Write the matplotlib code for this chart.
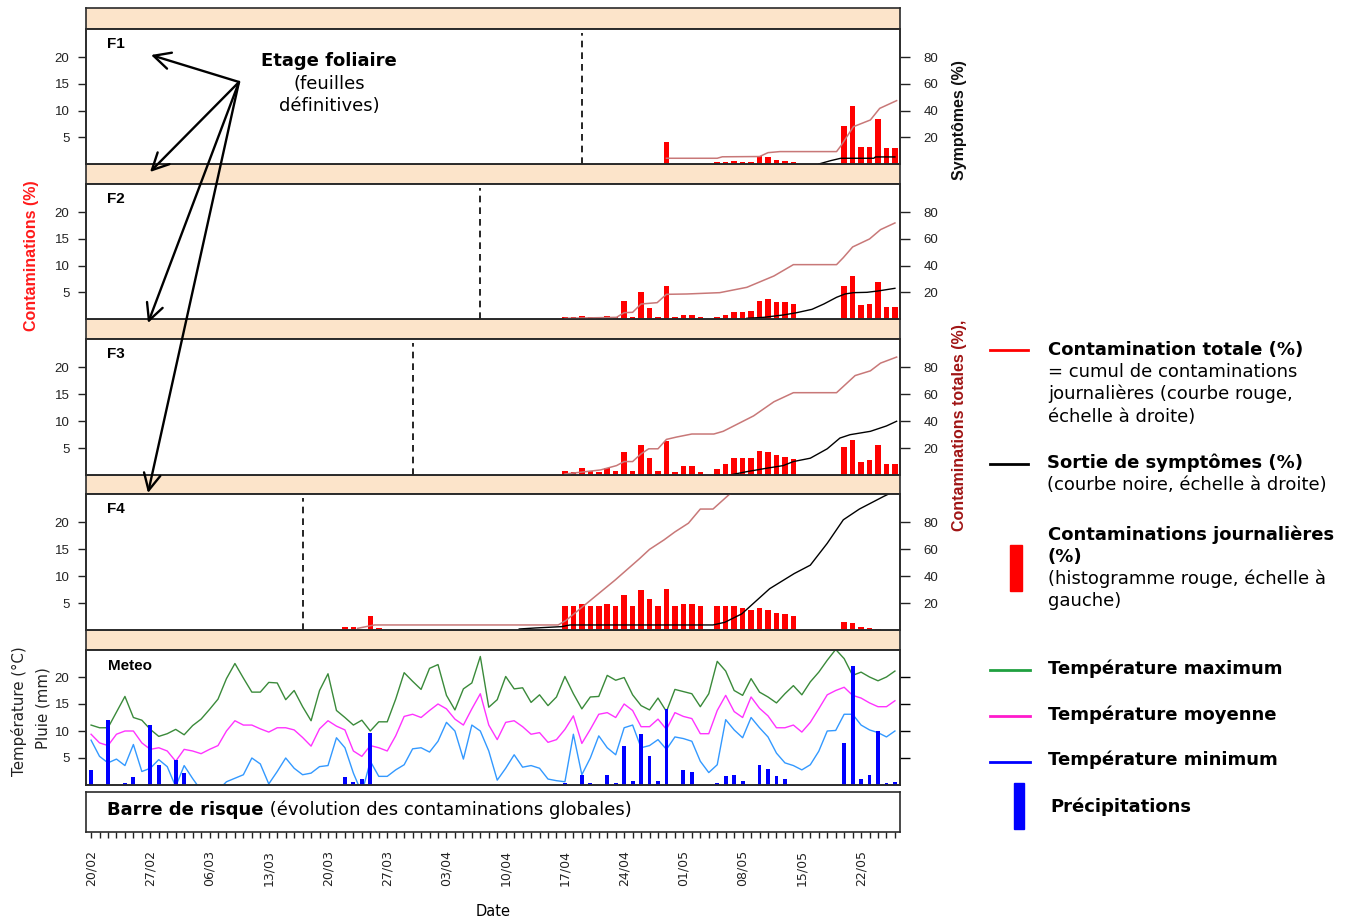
import matplotlib
matplotlib.use('Agg')
import matplotlib.pyplot as plt
from matplotlib.patches import Rectangle

plt.rcParams['font.family'] = ['DejaVu Sans']

# ---------------------------------------------------------------- data
date_labels = ['20/02', '27/02', '06/03', '13/03', '20/03', '27/03', '03/04',
               '10/04', '17/04', '24/04', '01/05', '08/05', '15/05', '22/05']
date_label_days = [0, 7, 14, 21, 28, 35, 42, 49, 56, 63, 70, 77, 84, 91]
days = list(range(96))

leaf_names = ['F1', 'F2', 'F3', 'F4']
leaf_stage_day = [58, 46, 38, 25]

f1_bar_days = [68, 74, 75, 76, 77, 78, 79, 80, 81, 82, 83, 89, 90, 91, 92, 93, 94, 95]
f1_bar_vals = [4.2, 0.3, 0.4, 0.55, 0.4, 0.4, 1.55, 1.4, 0.8, 0.55, 0.3,
               7.2, 10.9, 3.25, 3.25, 8.5, 3.0, 3.0]
f1_tot_days = [68, 74, 74.6, 79, 80, 81.4, 88.1, 88.6, 90.1, 92.1, 93.2, 95.2]
f1_tot_vals = [4.3, 4.3, 5.4, 5.6, 8.5, 9.3, 9.3, 13.5, 28, 33, 41.7, 47.5]
f1_sym_days = [86.0, 87.4, 88.6, 92.5, 92.7, 95.0]
f1_sym_vals = [0, 2.5, 4.3, 4.3, 5.3, 5.3]

f2_bar_days = [56, 57, 58, 59, 60, 61, 62, 63, 64, 65, 66, 67, 68, 69, 70, 71, 72,
               74, 75, 76, 77, 78, 79, 80, 81, 82, 83,
               89, 90, 91, 92, 93, 94, 95]
f2_bar_vals = [0.3, 0.3, 0.5, 0.3, 0.3, 0.5, 0.3, 3.4, 0.3, 5.0, 2.1, 0.3, 6.1, 0.3, 0.8, 0.8, 0.3,
               0.3, 0.8, 1.3, 1.3, 1.55, 3.4, 3.75, 3.1, 3.1, 2.9,
               6.1, 8.1, 2.6, 2.9, 6.9, 2.3, 2.3]
f2_tot_days = [56, 62.1, 63, 64, 65, 66.9, 68, 70.4, 74.3, 77.5, 80.7, 83.0,
               88.1, 88.9, 90.0, 92.0, 93.3, 95.0]
f2_tot_vals = [0.5, 1.25, 4.75, 5, 11.25, 12.25, 18.5, 18.75, 19.75, 23.75, 32.25, 40.75,
               40.75, 46, 54, 60, 67, 72]
f2_sym_days = [77.5, 79.5, 81.8, 83.4, 85.2, 86.6, 88.1, 89.1, 90.1, 91.7, 93.0, 95.0]
f2_sym_vals = [0.5, 1.25, 3.0, 4.75, 7.25, 11.25, 16.25, 18.75, 19.75, 20.0, 21.0, 23.0]

f3_bar_days = [56, 57, 58, 59, 60, 61, 62, 63, 64, 65, 66, 67, 68, 69, 70, 71, 72,
               74, 75, 76, 77, 78, 79, 80, 81, 82, 83,
               89, 90, 91, 92, 93, 94, 95]
f3_bar_vals = [0.8, 0.5, 1.3, 0.8, 0.5, 1.3, 0.8, 4.25, 0.8, 5.6, 3.2, 0.8, 6.4, 0.5, 1.6, 1.6, 0.5,
               1.05, 2.1, 3.2, 3.2, 3.2, 4.5, 4.25, 3.75, 3.4, 2.9,
               5.3, 6.6, 2.4, 2.7, 5.6, 2.1, 2.1]
f3_tot_days = [56, 60.2, 62.1, 63, 64, 65, 65.9, 67, 68, 69.2, 71, 73.6, 74.7, 78.3,
               80.7, 83, 88.1, 90.3, 92.1, 93.3, 95.2]
f3_tot_vals = [0.75, 3.75, 7, 10, 10, 15.75, 19.5, 19.5, 26.5, 28.25, 30.5, 30.5, 32.5, 44,
               54.5, 61.25, 61.25, 74, 77.5, 83.25, 87.75]
f3_sym_days = [75.5, 77.5, 79.8, 81.8, 83.0, 85.0, 87.0, 88.5, 89.7, 92.1, 94.0, 95.2]
f3_sym_vals = [0, 2.5, 5, 7, 10, 12.5, 19.5, 27.5, 30, 32.5, 36.5, 40]

f4_bar_days = [30, 31, 33, 34,
               56, 57, 58, 59, 60, 61, 62, 63, 64, 65, 66, 67, 68, 69, 70, 71, 72,
               74, 75, 76, 77, 78, 79, 80, 81, 82, 83,
               89, 90, 91, 92, 93]
f4_bar_vals = [0.5, 0.5, 2.6, 0.45,
               4.5, 4.5, 4.75, 4.5, 4.5, 4.75, 4.5, 6.6, 4.5, 7.4, 5.8, 4.5, 7.7, 4.5, 4.75, 4.75, 4.5,
               4.5, 4.5, 4.5, 4.0, 3.75, 4.0, 3.75, 3.2, 2.9, 2.6,
               1.55, 1.3, 0.55, 0.3, 0.25]
f4_tot_days = [31.5, 33.5, 55.2, 56.1, 59.0, 61.9, 64.8, 66.0, 67.7, 69.0, 70.6, 72.0, 73.5, 75.4, 77.0]
f4_tot_vals = [1.25, 3.75, 3.75, 7, 22, 37, 53, 60, 67, 73, 79.5, 90, 90, 100.75, 108]
f4_sym_days = [50.6, 52.5, 55.6, 56.6, 73.5, 74.9, 76.9, 80.2, 83.1, 85.0, 87.0, 88.9, 90.8, 93.7, 95.2]
f4_sym_vals = [0.75, 1.5, 2.5, 3.75, 3.75, 5.75, 12, 30.75, 42, 48.25, 64.5, 82, 90, 99.5, 104]

leaf_bar_days = [f1_bar_days, f2_bar_days, f3_bar_days, f4_bar_days]
leaf_bar_vals = [f1_bar_vals, f2_bar_vals, f3_bar_vals, f4_bar_vals]
leaf_tot_days = [f1_tot_days, f2_tot_days, f3_tot_days, f4_tot_days]
leaf_tot_vals = [f1_tot_vals, f2_tot_vals, f3_tot_vals, f4_tot_vals]
leaf_sym_days = [f1_sym_days, f2_sym_days, f3_sym_days, f4_sym_days]
leaf_sym_vals = [f1_sym_vals, f2_sym_vals, f3_sym_vals, f4_sym_vals]

t_max = [11.1, 10.6, 10.6, 13.5, 16.4, 12.5, 12.0, 10.3, 9.0, 9.5,
         10.3, 9.3, 11.0, 12.2, 14.0, 15.9, 19.7, 22.5, 19.8, 17.2,
         17.2, 19.0, 18.9, 15.8, 17.5, 14.5, 11.9, 17.5, 20.6, 13.8,
         12.5, 11.1, 12.0, 10.0, 11.7, 11.7, 15.9, 20.8, 19.2, 17.7,
         21.6, 22.3, 16.6, 13.9, 17.8, 18.9, 23.8, 14.4, 15.8, 20.1,
         17.8, 18.0, 15.3, 16.7, 14.7, 16.3, 20.1, 16.9, 14.1, 16.3,
         16.4, 20.3, 19.4, 19.9, 16.7, 14.7, 13.9, 16.1, 13.6, 17.7,
         17.3, 16.9, 14.5, 16.9, 22.9, 21.1, 17.5, 16.6, 19.7, 17.2,
         16.3, 15.2, 16.9, 18.4, 16.7, 19.1, 20.9, 23.1, 25.1, 23.4,
         20.3, 20.9, 20.0, 19.3, 20.0, 21.1]
t_mean = [9.4, 7.8, 7.3, 9.4, 10.0, 10.0, 7.8, 6.6, 6.9, 6.3,
          4.4, 6.6, 6.3, 5.8, 6.6, 7.3, 10.0, 11.9, 11.1, 11.1,
          10.4, 9.8, 10.6, 10.6, 10.2, 8.8, 7.2, 10.4, 11.9, 10.9,
          10.2, 6.3, 5.3, 7.3, 6.9, 6.3, 9.1, 12.7, 13.1, 12.5,
          13.8, 15.0, 14.1, 12.2, 11.1, 14.1, 16.9, 11.1, 8.4, 11.6,
          11.9, 10.8, 9.4, 9.7, 7.9, 8.4, 10.3, 12.8, 7.7, 10.3,
          13.1, 13.4, 12.5, 15.0, 13.8, 10.8, 10.8, 12.2, 10.3, 13.4,
          12.7, 12.3, 9.5, 9.5, 13.8, 16.6, 13.6, 12.5, 16.3, 14.2,
          12.8, 10.6, 10.6, 11.1, 9.8, 11.6, 14.1, 16.7, 17.5, 18.1,
          16.6, 16.1, 15.2, 14.5, 14.5, 15.6]
t_min = [8.3, 5.3, 4.1, 4.8, 3.6, 7.5, 2.5, 3.1, 4.7, 3.4,
         -0.3, 3.6, 1.2, -1.0, -2.0, -1.0, 0.6, 1.25, 1.9, 5.0,
         3.9, 0.2, 2.5, 5.0, 3.1, 1.9, 2.2, 3.4, 3.6, 8.75,
         6.9, 2.2, -1.5, 4.4, 1.6, 1.6, 2.8, 3.75, 6.7, 6.9,
         6.1, 8.1, 11.6, 10.0, 4.8, 11.1, 10.0, 6.3, 0.9, 3.1,
         5.6, 3.3, 3.6, 3.1, 1.1, 0.8, 0.6, 9.4, 1.9, 5.0,
         9.1, 6.9, 5.6, 10.6, 11.1, 6.9, 7.3, 8.4, 6.6, 8.9,
         8.6, 8.1, 4.4, 2.3, 3.75, 12.1, 10.2, 8.75, 12.5, 10.6,
         8.9, 5.9, 4.1, 3.6, 2.8, 3.75, 6.25, 10.0, 10.1, 13.1,
         13.1, 11.1, 10.2, 9.7, 8.9, 10.0]
rain_days = [0, 2, 4, 5, 7, 8, 10, 11, 30, 31, 32, 33,
             56, 58, 59, 61, 62, 63, 64, 65, 66, 67, 68, 70, 71,
             74, 75, 76, 77, 79, 80, 81, 82, 89, 90, 91, 92, 93, 94, 95]
rain_vals = [2.7, 12.0, 0.3, 1.4, 11.1, 3.75, 4.6, 2.2, 1.4, 0.55, 1.05, 9.6,
             0.3, 1.9, 0.3, 1.9, 0.3, 7.2, 0.8, 9.5, 5.3, 0.8, 14.1, 2.7, 2.4,
             0.3, 1.7, 1.9, 0.8, 3.75, 2.9, 1.7, 1.05, 7.7, 22.0, 1.05, 1.9, 10.0, 0.3, 0.55]

# ---------------------------------------------------------------- style
W, H = 1361, 918
STRIP = '#FCE4CA'
EDGE = '#2b2b2b'
C_BAR = '#FF0000'
C_TOT = '#C87878'
C_TMAX = '#3A8A3A'
C_TMEAN = '#FF33FF'
C_TMIN = '#3399FF'
C_RAIN = '#0000FF'
TICKFONT = 'Liberation Sans'
XLIM = (-0.6, 95.6)
LEFT, RIGHT = 86, 900

fig = plt.figure(figsize=(W / 100, H / 100), dpi=100)


def px_rect(x0, y0, x1, y1):
    return [x0 / W, 1 - y1 / H, (x1 - x0) / W, (y1 - y0) / H]


def frame(ax):
    for s in ax.spines.values():
        s.set_linewidth(1.2)
        s.set_color(EDGE)


def left_ticks(ax, ticks):
    ax.set_yticks(ticks)
    ax.tick_params(axis='y', direction='out', length=6, width=1, pad=6,
                   labelsize=9.5, labelfontfamily=TICKFONT, colors='#222222')
    ax.tick_params(axis='x', bottom=False, labelbottom=False)


strip_rows = [(8, 29), (164, 184), (319, 339), (475, 494), (630, 650)]
panel_rows = [(29, 164), (184, 319), (339, 475), (494, 630)]

for (y0, y1) in strip_rows:
    sax = fig.add_axes(px_rect(LEFT, y0, RIGHT, y1))
    sax.set_facecolor(STRIP)
    sax.set_xticks([])
    sax.set_yticks([])
    frame(sax)

for i, (y0, y1) in enumerate(panel_rows):
    ax = fig.add_axes(px_rect(LEFT, y0, RIGHT, y1))
    ax.set_xlim(XLIM)
    ax.set_ylim(0, 25.3)
    ax.bar(leaf_bar_days[i], leaf_bar_vals[i], width=0.65, color=C_BAR,
           edgecolor='none', zorder=2)
    ax.axvline(leaf_stage_day[i], ymin=0, ymax=0.97, color='black', lw=1.2,
               linestyle=(0, (4, 3)), zorder=3)
    left_ticks(ax, [5, 10, 15, 20])
    frame(ax)
    ax.text(21 / 814, 1 - 15 / 135, leaf_names[i], transform=ax.transAxes,
            fontsize=11, fontweight='bold', family=TICKFONT, va='center', ha='left')
    ax2 = ax.twinx()
    ax2.set_ylim(0, 101.2)
    ax2.set_yticks([20, 40, 60, 80])
    ax2.tick_params(axis='y', direction='out', length=7, width=1, pad=10,
                    labelsize=9.5, labelfontfamily=TICKFONT, colors='#222222')
    ax2.plot(leaf_tot_days[i], leaf_tot_vals[i], color=C_TOT, lw=1.1)
    ax2.plot(leaf_sym_days[i], leaf_sym_vals[i], color='black', lw=1.0)
    frame(ax2)

# meteo panel
mx = fig.add_axes(px_rect(LEFT, 650, RIGHT, 785))
mx.set_xlim(XLIM)
mx.set_ylim(0, 25)
mx.plot(days, t_max, color=C_TMAX, lw=1.0, zorder=2)
mx.plot(days, t_mean, color=C_TMEAN, lw=1.0, zorder=2)
mx.plot(days, t_min, color=C_TMIN, lw=1.0, zorder=2)
mx.bar(rain_days, rain_vals, width=0.45, color=C_RAIN, edgecolor='none', zorder=3)
left_ticks(mx, [5, 10, 15, 20])
frame(mx)
mx.text(22 / 814, 1 - 16 / 135, 'Meteo', transform=mx.transAxes, fontsize=11,
        fontweight='bold', family=TICKFONT, va='center', ha='left')
mx2 = mx.twinx()
mx2.set_ylim(0, 25)
mx2.set_yticks([5, 10, 15, 20])
mx2.tick_params(axis='y', direction='out', length=7, width=1, labelright=False)
frame(mx2)

# risk bar + date axis
rax = fig.add_axes(px_rect(LEFT, 792, RIGHT, 832))
rax.set_xlim(XLIM)
rax.set_ylim(0, 1)
rax.set_yticks([])
rax.set_xticks(date_label_days)
rax.set_xticklabels(date_labels, rotation=90, fontsize=9, family='DejaVu Sans')
rax.set_xticks(days, minor=True)
rax.tick_params(axis='x', which='both', direction='out', length=4, width=1,
                pad=9, colors='#222222')
rax.set_xlabel('Date', fontsize=10.5, labelpad=13)
frame(rax)
t_risk = rax.text(21 / 814, 0.55, 'Barre de risque', transform=rax.transAxes,
                  fontsize=13, fontweight='bold', va='center', ha='left')
rax.annotate(' (évolution des contaminations globales)', xy=(1, 0), xycoords=t_risk,
             va='bottom', ha='left', fontsize=13)

# ---------------------------------------------------------------- overlay (labels, arrows, legend)
ov = fig.add_axes([0, 0, 1, 1], zorder=20)
ov.set_xlim(0, W)
ov.set_ylim(H, 0)
ov.axis('off')
ov.patch.set_alpha(0)

ov.text(32, 256, 'Contaminations (%)', rotation=90, color='#FF1A1A', fontsize=11.5,
        fontweight='bold', family=TICKFONT, ha='center', va='center')
ov.text(960, 120, 'Symptômes (%)', rotation=90, color='#111111', fontsize=11.5,
        fontweight='bold', family=TICKFONT, ha='center', va='center')
ov.text(960, 425, 'Contaminations totales (%),', rotation=90, color='#A01414',
        fontsize=11.5, fontweight='bold', family=TICKFONT, ha='center', va='center')
ov.text(19, 711, 'Température (°C)', rotation=90, fontsize=10.8, ha='center', va='center',
        color='#222222')
ov.text(43.5, 708, 'Pluie (mm)', rotation=90, fontsize=10.8, ha='center', va='center',
        color='#222222')

# stage annotation
ov.text(329, 61, 'Etage foliaire', fontsize=13, fontweight='bold', ha='center', va='center')
ov.text(329, 84, '(feuilles', fontsize=13, ha='center', va='center')
ov.text(329, 106, 'définitives)', fontsize=13, ha='center', va='center')
arrow_origin = (239, 82)
for head in [(151, 55), (150, 172), (148, 323), (148, 493)]:
    ov.annotate('', xy=head, xytext=arrow_origin,
                arrowprops=dict(arrowstyle='->,head_length=1.2,head_width=0.6',
                                lw=1.7, color='black', shrinkA=0, shrinkB=0))

# legend
LX = 1048
ov.plot([990, 1028], [350, 350], color='#FF0000', lw=2)
ov.text(LX, 350, 'Contamination totale (%)', fontsize=13, fontweight='bold', va='center')
ov.text(LX, 372, '= cumul de contaminations', fontsize=13, va='center')
ov.text(LX, 394, 'journalières (courbe rouge,', fontsize=13, va='center')
ov.text(LX, 416.5, 'échelle à droite)', fontsize=13, va='center')

ov.plot([990, 1028], [464, 464], color='black', lw=2)
ov.text(LX - 1, 463, 'Sortie de symptômes (%)', fontsize=13, fontweight='bold', va='center')
ov.text(LX - 1, 485, '(courbe noire, échelle à droite)', fontsize=13, va='center')

ov.add_patch(Rectangle((1010, 545), 12, 46, color='#FF0000'))
ov.text(LX, 535, 'Contaminations journalières', fontsize=13, fontweight='bold', va='center')
ov.text(LX, 557, '(%)', fontsize=13, fontweight='bold', va='center')
ov.text(LX, 579, '(histogramme rouge, échelle à', fontsize=13, va='center')
ov.text(LX, 601, 'gauche)', fontsize=13, va='center')

ov.plot([990, 1030], [670, 670], color='#1FA040', lw=2)
ov.text(LX, 669, 'Température maximum', fontsize=13, fontweight='bold', va='center')
ov.plot([990, 1030], [716, 716], color='#FF1ACC', lw=2)
ov.text(LX, 715, 'Température moyenne', fontsize=13, fontweight='bold', va='center')
ov.plot([990, 1030], [762, 762], color='#0000FF', lw=2)
ov.text(LX, 760, 'Température minimum', fontsize=13, fontweight='bold', va='center')
ov.add_patch(Rectangle((1014, 783), 10, 46, color='#0000FF'))
ov.text(LX + 2, 807, 'Précipitations', fontsize=13, fontweight='bold', va='center')

fig.savefig('out.png', dpi=100)
